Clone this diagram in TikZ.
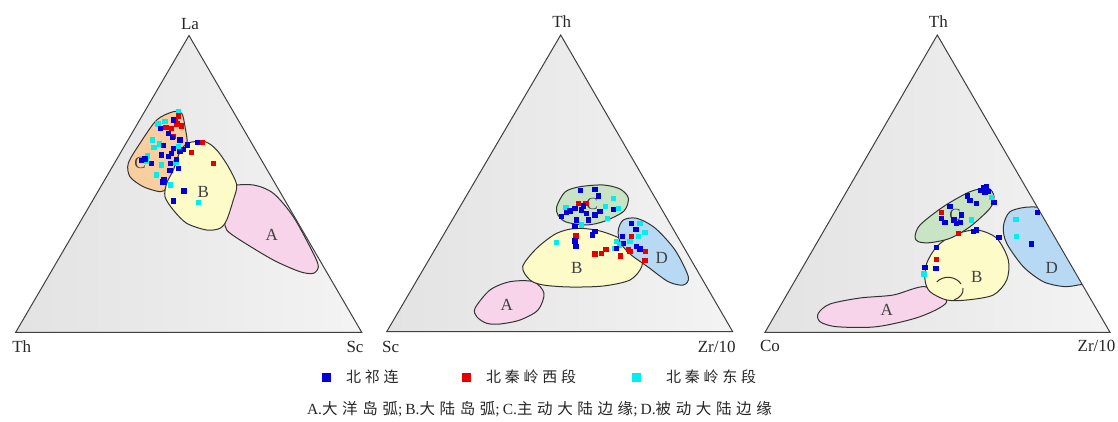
\documentclass[tikz,border=0pt]{standalone}
\usepackage{fontspec}
\setmainfont{Liberation Serif}
\newfontfamily\cjk[LetterSpace=30]{Noto Sans CJK SC}
\newfontfamily\cjkwide[LetterSpace=25]{Noto Sans CJK SC}
\usetikzlibrary{positioning}
\pgfdeclarehorizontalshading{ternfill}{100bp}{color(0bp)=(black!28); color(9bp)=(black!13); color(50bp)=(black!8); color(100bp)=(black!1)}
\definecolor{fieldA}{RGB}{248,212,234}
\definecolor{fieldB}{RGB}{253,251,200}
\definecolor{fieldCo}{RGB}{249,207,160}
\definecolor{fieldCg}{RGB}{200,228,196}
\definecolor{fieldD}{RGB}{184,217,244}
\definecolor{ptblue}{RGB}{0,0,215}
\definecolor{ptred}{RGB}{228,0,0}
\definecolor{ptcyan}{RGB}{0,238,238}
\newcommand{\samples}[2]{\foreach \x/\y in {#2} \fill[#1] (\x-2.7,\y-2.7) rectangle (\x+2.7,\y+2.7);}

\begin{document}
\begin{tikzpicture}[x=1pt,y=-1pt,inner sep=0pt,outer sep=0pt,
axislabel/.style={font=\fontsize{17}{17}\selectfont,text=black!85},
fieldlabel/.style={font=\fontsize{17}{17}\selectfont,text=black!75},
field/.style={draw=black!80,line width=1pt},
triframe/.style={draw=black!75,line width=1pt},
keybox/.style={minimum size=9pt,inner sep=0pt},
keytext/.style={font=\cjkwide\fontsize{15}{15}\selectfont,text=black!85}]

\useasboundingbox (0,0) rectangle (1118,422);

\coordinate (t1l) at (15.7,332.3);
\coordinate (t1r) at (361.7,332.3);
\coordinate (t1t) at (189,35.5);
\coordinate (t2l) at (386.7,331.7);
\coordinate (t2r) at (732.7,331.7);
\coordinate (t2t) at (560.7,35);
\coordinate (t3l) at (765,332.3);
\coordinate (t3r) at (1110,332.3);
\coordinate (t3t) at (937.3,35);

\shade[shading=ternfill] (t1l) -- (t1r) -- (t1t) -- cycle;
\shade[shading=ternfill] (t2l) -- (t2r) -- (t2t) -- cycle;
\shade[shading=ternfill] (t3l) -- (t3r) -- (t3t) -- cycle;

\draw[field,fill=fieldA] plot[smooth cycle] coordinates {(230,186.7) (253.3,185) (273.3,193.3) (293.3,216.7) (313.3,253.3) (318.3,266.7) (313.3,273.3) (300,271.7) (273.3,260) (240,240) (226.7,230) (225,220) (228,200)};
\draw[field,fill=fieldCo] plot[smooth cycle] coordinates {(173.3,111.7) (181.7,113.3) (185,126.7) (187,145) (178,160) (172,178) (166.7,188.3) (160,191.7) (143.3,186.7) (130,176.7) (128.3,163.3) (140,143.3) (156.7,120)};
\draw[field,fill=fieldB] plot[smooth cycle] coordinates {(188,143) (205,141.7) (216.7,150) (228.3,166.7) (236.7,185) (233.3,200) (226.7,220) (220,228.3) (206.7,230) (186.7,223.3) (173.3,210) (165,196.7) (166.7,183.3) (173.3,170) (180,152)};

\draw[field,fill=fieldA] plot[smooth cycle] coordinates {(475,308.3) (490,290) (510,281.7) (533.3,281.7) (544,293.3) (538,310) (520,320) (500,324) (486.7,323.3) (477,317)};
\draw[field,fill=fieldB] plot[smooth cycle] coordinates {(522.7,266.7) (530,280) (543.3,285) (570,287) (603.3,286) (630,280) (641.7,266.7) (640,253.3) (623.3,240) (600,231) (576.7,228.3) (556.7,233.3) (536.7,248.3)};
\draw[field,fill=fieldCg] plot[smooth cycle] coordinates {(556.7,206.7) (565,192) (580,186.7) (603.3,185) (620,189) (628.3,198) (624,211) (605,221) (586.7,225) (566,222) (558,215)};
\draw[field,fill=fieldD] plot[smooth cycle] coordinates {(618.3,230) (623.3,220) (636.7,218.3) (655,228) (675,250) (688.3,276.7) (683.3,285) (668.3,281.7) (648,267) (630,254) (620,242)};

\draw[field,fill=fieldA] plot[smooth cycle] coordinates {(818.3,313.3) (830,304) (860,298) (893.3,295) (925,286.7) (946.7,301.7) (920,316.7) (876.7,326.7) (836.7,326.7) (820,321.7)};
\draw[field,fill=fieldB] plot[smooth cycle] coordinates {(936.7,246.7) (953.3,235) (976.7,230) (996.7,238.3) (1008.3,260) (1006.7,280) (993.3,295) (966.7,300) (946.7,300) (930,291.7) (925,280) (926.7,263.3)};
\draw[field] (936.7,282) .. controls (943,275) and (956,276) .. (961,284);
\draw[field] (963,288) .. controls (964,293) and (960,298) .. (954,300);
\draw[field,fill=fieldCg] plot[smooth cycle] coordinates {(915,236.7) (920,225) (943.3,206.7) (970,191.7) (988.3,188.3) (994,196.7) (990,208.3) (970,226.7) (950,238.3) (930,242.7) (918.3,241.7)};
\begin{scope}
\clip (t3l) -- (t3r) -- (t3t) -- cycle;
\draw[field,fill=fieldD] plot[smooth cycle] coordinates {(1003.3,226.7) (1010,211.7) (1030,207) (1048,212) (1075,250) (1092,280) (1078,285) (1063.3,286.5) (1043.3,281.7) (1023.3,266.7) (1006.7,243.3)};
\end{scope}

\node[fieldlabel] (fa1) at (271.7,235) {A};
\node[fieldlabel] (fb1) at (203.3,191.7) {B};
\node[fieldlabel] (fc1) at (140,163.3) {C};
\node[fieldlabel] (fa2) at (506.7,305) {A};
\node[fieldlabel] (fb2) at (576.7,268.3) {B};
\node[fieldlabel] (fc2) at (592,204) {C};
\node[fieldlabel] (fd2) at (661.7,258.3) {D};
\node[fieldlabel] (fa3) at (886.7,310) {A};
\node[fieldlabel] (fb3) at (976.7,276.7) {B};
\node[fieldlabel] (fc3) at (955,215) {C};
\node[fieldlabel] (fd3) at (1051.7,268.3) {D};

\draw[triframe] (t1l) -- (t1r) -- (t1t) -- cycle;
\draw[triframe] (t2l) -- (t2r) -- (t2t) -- cycle;
\draw[triframe] (t3l) -- (t3r) -- (t3t) -- cycle;

\samples{ptcyan}{178.3/111.7, 165/121.7, 158/124, 152.7/140, 159.3/144, 154/147.3, 178.3/146.7, 147.7/156, 146.7/161.7, 161.7/165, 176/162.7, 156.7/175, 170.7/185, 198.3/202.7}
\samples{ptred}{178.3/116, 175/120.7, 181.7/126, 171.7/128.3, 166/127.3, 173.3/136.7, 202.7/142.7, 191.7/152.7, 213.3/163.3, 177/124}
\samples{ptblue}{173.3/120, 160.7/128.3, 168.3/133.3, 180/140, 172.7/137.3, 163.3/145.7, 173.3/148.3, 183.3/149.3, 187.7/145, 197.7/142.7, 171.7/153.3, 180/151.7, 161.7/155, 168.3/156.7, 176.7/159.3, 141.7/160.7, 151.7/163.3, 170.7/163.3, 178.3/168.3, 170/170.7, 164/180, 184/191, 173.3/201, 145/159, 163/182}

\samples{ptcyan}{613.3/198.3, 618.3/208.3, 605.7/206.7, 566/207.3, 607.7/218.3, 556.7/242.7, 581.7/225, 640/223.3, 645/232.7, 638.3/236.7, 616.7/241.7, 615/248.3, 619.3/245, 630/241.7}
\samples{ptred}{578.3/203.3, 586/203.3, 576/236, 595/254, 601.7/253.3, 606/249.3, 620.7/256, 628.3/249.3, 631.7/236.7, 645.7/251.7, 645/260.7, 630/251.7}
\samples{ptblue}{580.7/190.7, 595/189.3, 598.3/196, 613.3/209.3, 566.7/212.7, 561.7/216.7, 575/208.3, 581.7/210, 586.7/213.3, 583.3/206, 576.7/220, 588.3/220, 595/215, 600/211.7, 575/226.7, 595/231.7, 592.7/235, 575/241, 576/246.7, 622.3/236.7, 631.7/223.3, 636/229.3, 640/249, 636.7/246.7, 616.7/248.3, 623.3/243.3, 570/211}

\samples{ptcyan}{991.7/197.3, 971.7/220, 1016/219.3, 1016.7/236.7, 924/274}
\samples{ptred}{941.7/212.7, 958.3/233.3, 936.7/259.3}
\samples{ptblue}{983.3/187.3, 986.7/186.7, 980.7/190.7, 985/192.7, 988.3/191.7, 994/202.7, 967.3/196, 970/200.7, 976.7/203.3, 950/206.7, 961.7/215, 941.7/218.3, 945/222.7, 954/220, 956.7/223.3, 960.7/222.7, 973.3/231.7, 976.7/230, 999/237.3, 1037.3/212.7, 1031.7/244, 936.7/247.7, 936/268.3, 925/267.7}

\node[axislabel] (la1) at (190,24) {La};
\node[axislabel] (th1) at (21.7,346.7) {Th};
\node[axislabel] (sc1) at (355,346.7) {Sc};
\node[axislabel] (th2) at (561.7,22) {Th};
\node[axislabel] (sc2) at (390.7,346.7) {Sc};
\node[axislabel] (zr2) at (716.7,346.7) {Zr/10};
\node[axislabel] (th3) at (938.3,22) {Th};
\node[axislabel] (co3) at (770,346) {Co};
\node[axislabel] (zr3) at (1096.5,346) {Zr/10};

\node[keybox,fill=ptblue] (kb) at (326.7,377) {};
\node[keytext,right=15pt of kb] (tb) {北祁连};
\node[keybox,fill=ptred] (kr) at (466.7,377) {};
\node[keytext,right=15pt of kr] (tr) {北秦岭西段};
\node[keybox,fill=ptcyan] (kc) at (636.7,377) {};
\node[keytext,right=25pt of kc] (tc) {北秦岭东段};

\node[anchor=west,font=\fontsize{15.5}{15.5}\selectfont,text=black!85] (cap) at (307,409) {A.{\cjk 大洋岛弧};\hspace{3pt}B.{\cjk 大陆岛弧};\hspace{3pt}C.{\cjk 主动大陆边缘};\hspace{3pt}D.{\cjk 被动大陆边缘}};

\end{tikzpicture}
\end{document}
